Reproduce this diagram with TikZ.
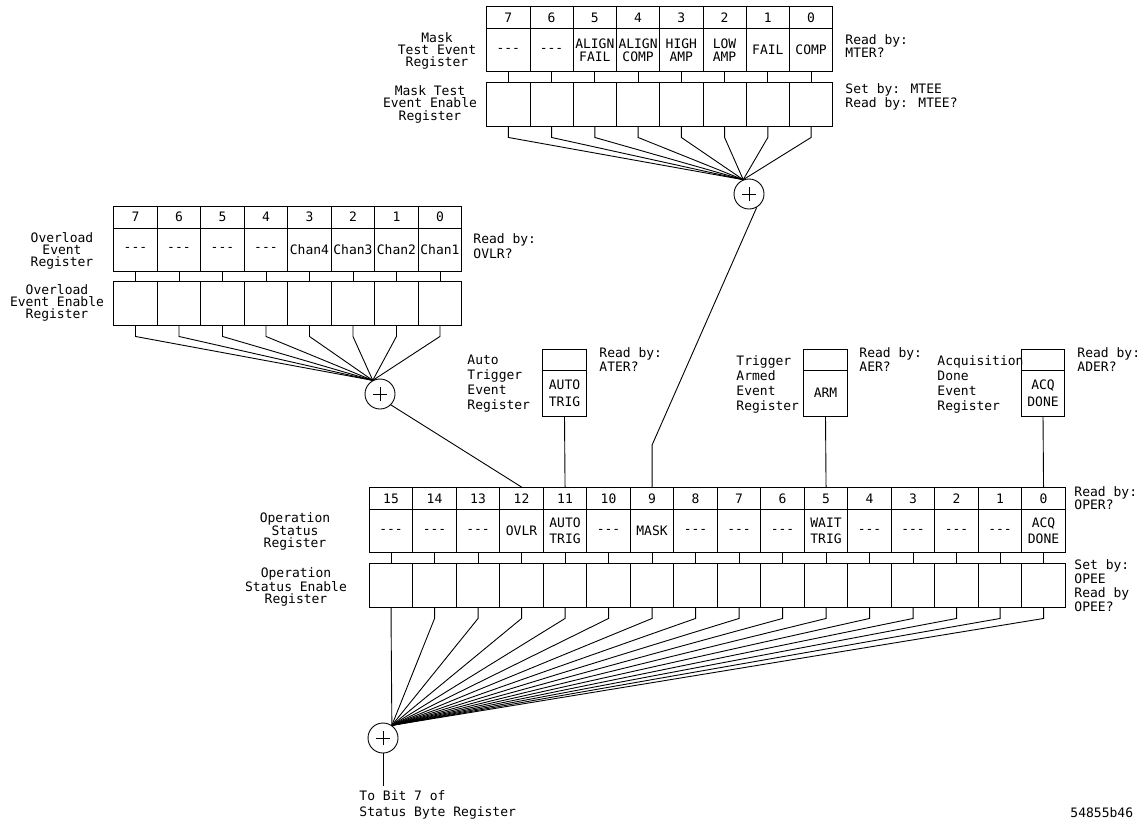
\documentclass[tikz,border=0pt]{standalone}
\usepackage{fontspec}
\newfontfamily\regfont{DejaVu Sans Mono}
\newcommand\dashes{-{}-{}-}
\begin{document}
\begin{tikzpicture}[x=1pt,y=-1pt,line width=0.9pt,
  cellbox/.style={draw,rectangle,inner sep=0,align=center,font=\fontsize{13}{14}\selectfont\regfont},
  numcell/.style={cellbox,minimum height=22},
  labcell/.style={cellbox,minimum height=43},
  encell/.style={cellbox,minimum height=44},
  smallcell/.style={cellbox,minimum width=43.5,font=\fontsize{13}{17}\selectfont\regfont},
  lbl/.style={inner sep=0,align=center,font=\fontsize{13}{12}\selectfont\regfont},
  note/.style={inner sep=0,align=left,anchor=west,font=\fontsize{13}{14}\selectfont\regfont},
  sumnode/.style={draw,circle,minimum size=30,inner sep=0,
    path picture={\draw[line width=0.9pt] (path picture bounding box.center) +(-7,0) -- +(7,0)
      (path picture bounding box.center) +(0,-7) -- +(0,7);}}]
\path[fill=white,use as bounding box] (0,0) rectangle (1147,823);

% summation nodes
\node[sumnode] (msum) at (749,194) {};
\node[sumnode] (osum) at (380,394) {};
\node[sumnode] (ssum) at (383,738) {};

% ---------- Mask Test Event Register ----------
\foreach \b/\t [count=\i from 0] in {7/\dashes,6/\dashes,5/{ALIGN\\FAIL},4/{ALIGN\\COMP},3/{HIGH\\AMP},2/{LOW\\AMP},1/FAIL,0/COMP}{
  \pgfmathsetmacro\cx{486.7+(\i+0.5)*43.25}
  \node[numcell,minimum width=43.25] (mn\b) at (\cx,17.5) {\b};
  \node[labcell,minimum width=43.25,font=\fontsize{13}{13}\selectfont\regfont] (ml\b) at (\cx,50) {\t};
  \node[encell,minimum width=43.25] (me\b) at (\cx,104) {};
  \draw (ml\b.south) -- (me\b.north);
  \draw (me\b.south) -- ++(0,11) -- (msum.112);
}
\node[lbl] (mlab) at (437,51) {Mask\\Test Event\\Register};
\node[lbl,font=\fontsize{13}{12.5}\selectfont\regfont] (melab) at (430,104) {Mask Test\\Event Enable\\Register};
\node[note,font=\fontsize{13}{13}\selectfont\regfont] (mread) at (845,46.5) {Read by:\\MTER?};
\node[note] (mset) at (845,97) {Set by: MTEE\\Read by: MTEE?};

% ---------- Overload Event Register ----------
\foreach \b/\t [count=\i from 0] in {7/\dashes,6/\dashes,5/\dashes,4/\dashes,3/Chan4,2/Chan3,1/Chan2,0/Chan1}{
  \pgfmathsetmacro\cx{113.7+(\i+0.5)*43.5}
  \node[numcell,minimum width=43.5] (vn\b) at (\cx,217) {\b};
  \node[labcell,minimum width=43.5] (vl\b) at (\cx,249.5) {\t};
  \node[encell,minimum width=43.5] (ve\b) at (\cx,303) {};
  \draw (vl\b.south) -- (ve\b.north);
  \draw (ve\b.south) -- ++(0,11) -- (osum.118);
}
\node[lbl] (vlab) at (62,250.5) {Overload\\Event\\Register};
\node[lbl] (velab) at (57,303) {Overload\\Event Enable\\Register};
\node[note,font=\fontsize{13}{15}\selectfont\regfont] (vread) at (473,246) {Read by:\\OVLR?};

% ---------- Operation Status Register ----------
\foreach \b/\t [count=\i from 0] in {15/\dashes,14/\dashes,13/\dashes,12/OVLR,11/{AUTO\\TRIG},10/\dashes,9/MASK,8/\dashes,7/\dashes,6/\dashes,5/{WAIT\\TRIG},4/\dashes,3/\dashes,2/\dashes,1/\dashes,0/{ACQ\\DONE}}{
  \pgfmathsetmacro\cx{369.3+(\i+0.5)*43.5}
  \node[numcell,minimum width=43.5] (on\b) at (\cx,498.5) {\b};
  \node[labcell,minimum width=43.5,font=\fontsize{13}{15.5}\selectfont\regfont] (ol\b) at (\cx,531) {\t};
  \node[encell,minimum width=43.5] (oe\b) at (\cx,585) {};
  \draw (ol\b.south) -- (oe\b.north);
  \draw (oe\b.south) -- ++(0,11) -- (ssum.55);
}
\node[lbl] (olab) at (295,531.5) {Operation\\Status\\Register};
\node[lbl] (oelab) at (296,587) {Operation\\Status Enable\\Register};
\node[note,font=\fontsize{13}{13}\selectfont\regfont] (oread) at (1074,498.5) {Read by:\\OPER?};
\node[note] (oset) at (1074,586) {Set by:\\OPEE\\Read by\\OPEE?};

% ---------- small event registers ----------
\node[smallcell,minimum height=21] (atop) at (564.5,359.5) {};
\node[smallcell,minimum height=46] (abox) at (564.5,393) {AUTO\\TRIG};
\node[smallcell,minimum height=21] (ttop) at (825.5,359.5) {};
\node[smallcell,minimum height=46] (tbox) at (825.5,393) {ARM};
\node[smallcell,minimum height=21] (qtop) at (1043,359.5) {};
\node[smallcell,minimum height=46] (qbox) at (1043,393) {ACQ\\DONE};
\node[note,font=\fontsize{13}{15}\selectfont\regfont] (alab) at (467,384) {Auto\\Trigger\\Event\\Register};
\node[note,font=\fontsize{13}{15}\selectfont\regfont] (tlab) at (736,384) {Trigger\\Armed\\Event\\Register};
\node[note,font=\fontsize{13}{15}\selectfont\regfont] (qlab) at (937,384) {Acquisition\\Done\\Event\\Register};
\node[note,font=\fontsize{13}{14}\selectfont\regfont] (aread) at (599,360) {Read by:\\ATER?};
\node[note,font=\fontsize{13}{14}\selectfont\regfont] (tread) at (859,360) {Read by:\\AER?};
\node[note,font=\fontsize{13}{14}\selectfont\regfont] (qread) at (1077,360) {Read by:\\ADER?};
\draw (abox.south) -- (on11.north);
\draw (tbox.south) -- (on5.north);
\draw (qbox.south) -- (on0.north);

% ---------- links between registers ----------
\path (on9.north) ++(0,-42) coordinate (mbend);
\draw (msum.-60) -- (mbend) -- (on9.north);
\draw (osum.-45) -- (on12.north);

% ---------- output ----------
\coordinate (sout) at (383,786);
\draw (ssum.south) -- (sout);
\node[note,font=\fontsize{13}{16}\selectfont\regfont] (outlab) at (359,805) {To Bit 7 of\\Status Byte Register};
\node[note] (figid) at (1070,813) {54855b46};
\end{tikzpicture}
\end{document}
